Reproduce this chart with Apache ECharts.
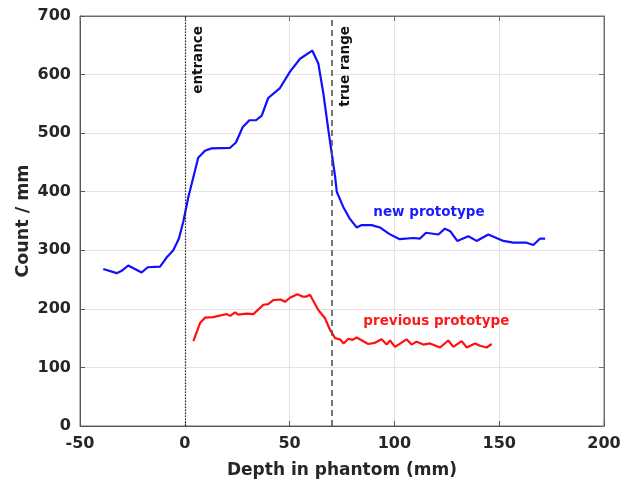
<!DOCTYPE html>
<html>
<head>
<meta charset="utf-8">
<script src="https://cdn.jsdelivr.net/npm/echarts@6/dist/echarts.min.js"></script>
<style>
  html, body { margin: 0; padding: 0; background: #fff; }
  #vis { width: 630px; height: 487px; }
</style>
</head>
<body>
<div id="vis"></div>
<script>
// new prototype (blue)
const newDepth = [-38.9, -32.5, -30.1, -27, -20.6, -17.7, -11.8, -8.6, -5.5, -2.8, -0.7, 1.7, 6.4, 9.6, 12.8,
  21.6, 24.4, 27.6, 30.8, 34, 36.7, 39.8, 45.4, 50.2, 55, 60.8, 63.7, 66.1, 68.5, 71.7, 72.5, 75.6, 78.5,
  82, 84.4, 89.1, 93.1, 97.5, 102.5, 109, 112.2, 115.1, 121, 124.1, 126.8, 130, 135.3, 139.2, 144.8,
  152, 156.7, 163.1, 166.3, 169.5, 171.9];
const newCount = [268, 261, 265, 274, 262, 271, 272, 288, 300, 320, 349, 391, 458, 470, 474,
  475, 484, 510, 522, 522, 530, 560, 577, 605, 627, 641, 619, 568, 505, 426, 400, 374, 355,
  339, 343, 343, 339, 328, 319, 321, 320, 330, 327, 337, 332, 316, 324, 316, 327,
  316, 313, 313, 309, 320, 320];

// previous prototype (red)
const prevDepth = [4.1, 7.3, 9.6, 13.6, 18.4, 20, 21.6, 24, 25.5, 29.5, 32.7, 37.5, 39.8, 42.2, 45.7,
  47.8, 50.2, 53.7, 56.2, 58.1, 59.7, 63.7, 66.9, 69.3, 71.7, 74, 75.8, 78, 80, 82, 87.5, 90.7, 93.9,
  96.3, 97.9, 100.3, 105.8, 108.2, 110.6, 113.8, 117, 121.8, 125.7, 128.1, 132.1, 134.5, 138.5, 140.8,
  144, 146.4];
const prevCount = [145, 176, 185, 186, 190, 191, 188, 194, 190, 192, 191, 207, 208, 215, 216,
  212, 219, 225, 221, 221, 224, 198, 184, 164, 150, 148, 141, 149, 147, 151, 140, 142, 148,
  139, 146, 135, 148, 139, 144, 139, 141, 134, 146, 135, 145, 134, 141, 137,
  134, 140];

const entranceDepth = 0;
const trueRangeDepth = 70;

const FONT = "'DejaVu Sans', 'Liberation Sans', Arial, sans-serif";
const TXT = '#262626';

const chart = echarts.init(document.getElementById('vis'), null, { renderer: 'canvas' });

const pairs = (xs, ys) => xs.map((x, i) => [x, ys[i]]);

const xBase = { type: 'value', min: -50, max: 200, interval: 50 };
const yBase = { type: 'value', min: 0, max: 700, interval: 100 };

chart.setOption({
  animation: false,
  grid: { left: 80, right: 26, top: 16, bottom: 61, show: true, borderColor: '#6e6e6e', borderWidth: 1 },
  xAxis: [
    Object.assign({}, xBase, {
      position: 'bottom',
      name: 'Depth in phantom (mm)', nameLocation: 'middle', nameGap: 36,
      nameTextStyle: { fontFamily: FONT, fontWeight: 'bold', fontSize: 17, color: TXT },
      axisLine: { show: true, onZero: false, lineStyle: { color: '#555', width: 1 } },
      axisTick: { show: true, inside: true, length: 5, lineStyle: { color: '#555' } },
      axisLabel: { fontFamily: FONT, fontWeight: 'bold', fontSize: 16, color: TXT, margin: 10 },
      splitLine: { show: true, lineStyle: { color: '#e3e3e3', width: 1 } }
    }),
    Object.assign({}, xBase, {
      position: 'top',
      axisLine: { show: true, onZero: false, lineStyle: { color: '#6e6e6e' } },
      axisTick: { show: true, inside: true, length: 5, lineStyle: { color: '#6e6e6e' } },
      axisLabel: { show: false }, splitLine: { show: false }
    })
  ],
  yAxis: [
    Object.assign({}, yBase, {
      position: 'left',
      name: 'Count / mm', nameLocation: 'middle', nameGap: 48, nameMoveOverlap: false,
      nameTextStyle: { fontFamily: FONT, fontWeight: 'bold', fontSize: 17.5, color: TXT },
      axisLine: { show: true, onZero: false, lineStyle: { color: '#555', width: 1 } },
      axisTick: { show: true, inside: true, length: 5, lineStyle: { color: '#555' } },
      axisLabel: { fontFamily: FONT, fontWeight: 'bold', fontSize: 16, color: TXT, margin: 9 },
      splitLine: { show: true, lineStyle: { color: '#e3e3e3', width: 1 } }
    }),
    Object.assign({}, yBase, {
      position: 'right',
      axisLine: { show: true, onZero: false, lineStyle: { color: '#6e6e6e' } },
      axisTick: { show: true, inside: true, length: 5, lineStyle: { color: '#6e6e6e' } },
      axisLabel: { show: false }, splitLine: { show: false }
    })
  ],
  series: [
    {
      type: 'line', name: 'new prototype', data: pairs(newDepth, newCount),
      showSymbol: false, lineStyle: { color: '#1010ff', width: 2.2 }, z: 3,
      markLine: {
        silent: true, symbol: 'none', label: { show: false },
        data: [
          { xAxis: entranceDepth, lineStyle: { type: [1.5, 1.5], color: '#222', width: 1.2 } },
          { xAxis: trueRangeDepth, lineStyle: { type: [6, 4], color: '#555', width: 1.6 } }
        ]
      }
    },
    {
      type: 'line', name: 'previous prototype', data: pairs(prevDepth, prevCount),
      showSymbol: false, lineStyle: { color: '#ff1010', width: 2.2 }, z: 3
    }
  ]
});

// text annotations placed from data coordinates
const px = (p) => chart.convertToPixel({ gridIndex: 0 }, p);
const topY = px([0, 700])[1];
const ent = px([entranceDepth, 700]);
const tr = px([trueRangeDepth, 700]);
const newLbl = px([116.5, 365]);
const prevLbl = px([120, 178]);

const vText = (p, text) => ({
  type: 'text', x: p[0] + 7, y: topY + 10, rotation: Math.PI / 2,
  style: { text, fill: '#111', font: 'bold 13.5px ' + FONT, textAlign: 'right', textVerticalAlign: 'top' }
});

chart.setOption({
  graphic: [
    vText(ent, 'entrance'),
    vText(tr, 'true range'),
    { type: 'text', x: newLbl[0], y: newLbl[1],
      style: { text: 'new prototype', fill: '#1a1aff', font: 'bold 13.5px ' + FONT, textAlign: 'center', textVerticalAlign: 'middle' } },
    { type: 'text', x: prevLbl[0], y: prevLbl[1],
      style: { text: 'previous prototype', fill: '#ff1a1a', font: 'bold 13.5px ' + FONT, textAlign: 'center', textVerticalAlign: 'middle' } }
  ]
});
</script>
</body>
</html>
